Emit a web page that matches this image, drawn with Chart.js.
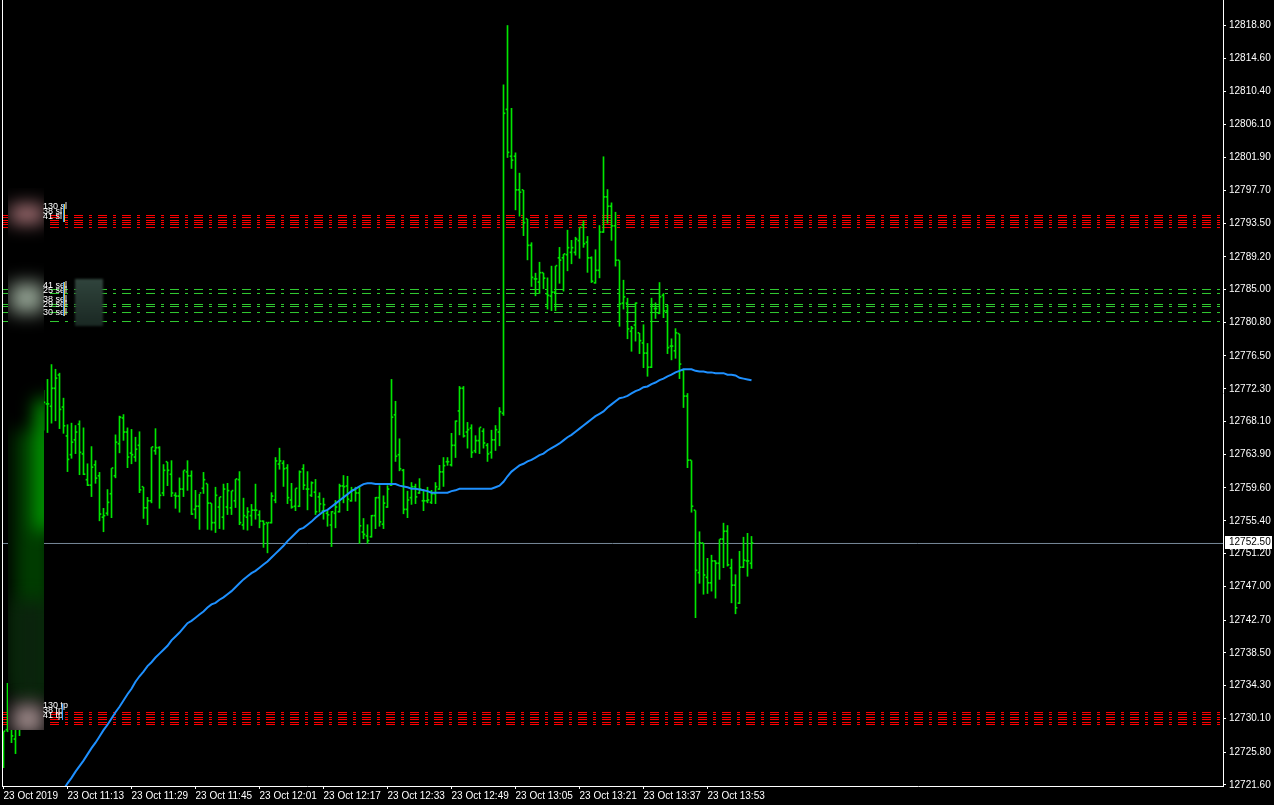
<!DOCTYPE html>
<html><head><meta charset="utf-8">
<script src="https://cdn.jsdelivr.net/npm/chart.js@4.4.1/dist/chart.umd.min.js"></script>
<style>html,body{margin:0;padding:0;background:#000;overflow:hidden}canvas{display:block}</style>
</head><body>
<canvas id="c" width="1274" height="805"></canvas>
<script>
// ---- data (M1 bars, 23 Oct 2019, from 10:57) ----
const opens=[12724.7,12728.6,12731.8,12727.4,12729.8,12731.8,12738.8,12749.0,12758.0,12765.7,
 12768.2,12770.3,12770.0,12772.3,12774.0,12769.9,12766.2,12763.8,12765.7,12767.7,
 12763.9,12760.6,12759.9,12762.5,12761.1,12755.8,12756.3,12758.8,12761.1,12765.2,
 12768.5,12766.7,12764.0,12763.5,12765.0,12759.7,12757.0,12757.9,12764.3,12764.7,
 12758.9,12762.9,12761.3,12758.6,12758.5,12759.4,12761.6,12761.1,12756.8,12757.2,
 12759.5,12760.1,12757.6,12755.1,12757.1,12755.8,12757.1,12757.0,12757.9,12760.6,
 12754.8,12755.8,12756.0,12756.7,12756.1,12755.3,12755.1,12755.1,12758.0,12762.6,
 12762.7,12762.1,12758.0,12757.2,12757.2,12762.0,12759.4,12758.6,12759.0,12758.4,
 12756.6,12756.3,12754.8,12756.3,12756.5,12759.8,12759.8,12757.9,12759.3,12758.9,
 12753.9,12753.4,12753.3,12756.0,12758.3,12754.9,12757.1,12759.9,12768.9,12763.8,
 12761.8,12756.8,12758.3,12759.7,12758.9,12757.9,12757.9,12757.7,12758.8,12759.4,
 12761.6,12762.9,12762.5,12765.0,12769.4,12772.3,12766.7,12767.2,12764.3,12765.6,
 12766.8,12765.0,12764.1,12765.7,12766.7,12769.1,12808.0,12802.0,12802.0,12797.7,
 12797.7,12794.0,12790.6,12786.3,12785.9,12787.1,12784.4,12784.1,12784.6,12789.0,
 12789.0,12789.4,12789.7,12789.7,12791.2,12793.2,12791.0,12789.0,12785.8,12787.4,
 12792.3,12796.8,12795.6,12793.1,12788.7,12783.2,12783.2,12779.6,12780.4,12779.4,
 12778.1,12776.8,12775.0,12782.5,12781.9,12784.2,12782.2,12777.7,12777.1,12779.3,
 12774.6,12771.3,12763.1,12756.7,12748.7,12752.5,12748.1,12747.4,12750.2,12749.9,
 12753.0,12754.0,12749.3,12747.1,12744.8,12749.4,12750.2,12749.9];
const highs=[12728.4,12734.6,12732.4,12730.5,12732.4,12740.1,12750.3,12760.6,12767.0,12770.8,
 12772.1,12773.5,12775.4,12774.8,12774.3,12771.1,12767.7,12767.9,12767.6,12768.2,
 12767.3,12762.7,12764.9,12763.1,12761.6,12757.0,12759.4,12762.1,12766.4,12768.8,
 12769.0,12767.3,12767.1,12766.1,12766.8,12759.7,12758.4,12764.8,12767.2,12764.9,
 12762.6,12762.9,12763.1,12759.0,12760.9,12761.8,12763.1,12761.8,12759.3,12758.8,
 12761.6,12760.1,12757.6,12759.7,12758.4,12760.1,12760.2,12759.2,12760.7,12761.7,
 12758.3,12757.1,12757.5,12760.1,12756.7,12755.4,12755.1,12759.0,12763.5,12764.7,
 12763.1,12762.6,12760.2,12759.5,12761.8,12762.6,12761.7,12760.4,12760.7,12759.0,
 12758.3,12756.7,12756.6,12758.0,12760.1,12761.2,12761.1,12759.7,12759.7,12759.7,
 12755.7,12754.9,12756.1,12758.4,12759.9,12758.6,12759.9,12773.5,12770.7,12765.9,
 12762.0,12759.2,12760.3,12760.1,12760.8,12759.4,12759.7,12759.3,12760.3,12762.5,
 12763.5,12763.5,12766.6,12768.2,12772.6,12772.6,12768.0,12767.7,12766.3,12767.3,
 12767.2,12765.3,12767.0,12767.6,12769.9,12811.2,12818.8,12808.2,12802.5,12799.9,
 12797.7,12794.0,12791.0,12787.1,12788.5,12787.1,12786.5,12788.0,12788.0,12790.4,
 12789.5,12792.6,12791.3,12791.7,12792.9,12793.8,12791.8,12789.2,12790.1,12793.2,
 12802.0,12797.8,12796.1,12794.9,12788.7,12786.2,12783.9,12780.3,12783.3,12779.4,
 12780.5,12778.1,12783.9,12783.3,12785.9,12784.5,12783.0,12778.7,12780.0,12779.3,
 12774.8,12771.7,12763.1,12756.7,12754.0,12752.5,12750.6,12751.0,12750.3,12753.0,
 12755.1,12754.8,12750.5,12748.5,12751.5,12753.3,12753.8,12753.4];
const lows=[12723.8,12728.4,12727.0,12725.6,12727.9,12731.1,12737.5,12747.8,12755.4,12763.1,
 12767.0,12766.7,12767.9,12768.2,12767.2,12766.6,12761.7,12763.4,12764.0,12761.3,
 12761.3,12759.9,12758.5,12760.2,12755.4,12754.0,12756.1,12755.8,12760.9,12764.1,
 12765.7,12762.2,12762.7,12763.0,12759.0,12755.7,12754.9,12757.7,12763.9,12757.0,
 12758.6,12759.9,12758.5,12757.0,12756.5,12758.5,12759.3,12756.2,12755.7,12754.3,
 12758.9,12754.3,12754.2,12753.9,12754.4,12754.3,12756.2,12756.2,12757.1,12754.9,
 12754.3,12754.2,12754.8,12755.6,12754.5,12752.0,12751.3,12755.1,12757.7,12762.0,
 12759.8,12757.6,12757.0,12756.7,12757.2,12759.4,12756.8,12758.5,12756.2,12756.5,
 12755.6,12754.7,12752.1,12754.5,12756.5,12757.7,12756.7,12757.9,12757.9,12752.5,
 12753.1,12752.5,12753.3,12754.4,12754.7,12754.4,12757.1,12759.9,12763.0,12761.8,
 12756.3,12755.8,12757.5,12757.6,12758.9,12756.7,12757.7,12757.6,12757.6,12759.4,
 12759.8,12762.5,12762.4,12763.5,12766.4,12766.1,12764.7,12763.5,12764.1,12764.0,
 12764.7,12763.0,12763.4,12764.4,12765.0,12768.9,12801.9,12800.5,12795.2,12794.4,
 12791.9,12788.8,12785.4,12784.2,12784.5,12785.1,12782.5,12782.3,12782.3,12785.8,
 12784.8,12787.4,12788.3,12789.4,12789.0,12790.4,12787.2,12785.9,12785.8,12786.5,
 12792.3,12793.5,12791.3,12788.0,12780.3,12782.5,12778.7,12777.1,12778.4,12776.8,
 12775.0,12773.9,12775.0,12781.3,12781.9,12781.4,12776.8,12776.0,12776.2,12773.6,
 12769.9,12762.2,12756.5,12743.0,12747.4,12746.0,12746.1,12746.4,12745.5,12747.9,
 12749.4,12749.6,12744.9,12743.5,12744.8,12749.4,12748.3,12749.3];
const closes=[12728.4,12732.4,12727.8,12729.8,12731.8,12738.8,12749.0,12758.0,12765.7,12768.2,
 12770.5,12770.3,12772.3,12773.6,12769.6,12767.5,12763.2,12765.4,12766.7,12764.1,
 12761.3,12759.9,12762.2,12760.8,12756.2,12756.0,12757.7,12762.1,12765.4,12768.6,
 12766.7,12763.5,12763.8,12764.5,12759.3,12757.0,12757.9,12764.8,12764.7,12758.6,
 12761.8,12761.8,12758.9,12758.5,12759.4,12761.8,12761.1,12756.2,12757.2,12758.9,
 12760.6,12757.6,12755.1,12758.6,12758.4,12759.4,12759.2,12759.2,12760.7,12755.1,
 12756.0,12756.5,12756.7,12756.7,12755.3,12754.9,12755.1,12758.5,12763.0,12763.0,
 12762.0,12758.3,12757.1,12759.5,12761.6,12759.9,12759.4,12760.2,12756.5,12757.5,
 12757.4,12756.1,12756.5,12757.1,12759.8,12759.7,12758.1,12759.3,12758.9,12754.7,
 12753.6,12752.8,12756.0,12758.3,12755.2,12757.6,12759.4,12768.6,12763.6,12762.0,
 12756.8,12758.0,12759.7,12758.4,12759.4,12757.9,12758.0,12758.8,12759.7,12761.6,
 12762.4,12762.9,12765.0,12768.1,12772.3,12766.2,12767.0,12764.1,12765.6,12767.3,
 12765.3,12763.9,12765.7,12767.0,12769.3,12807.5,12802.5,12801.5,12797.7,12797.4,
 12793.5,12790.6,12786.5,12786.3,12787.1,12786.4,12784.2,12784.6,12788.0,12788.7,
 12789.5,12790.3,12790.3,12791.4,12792.9,12790.8,12789.0,12786.0,12787.4,12792.3,
 12796.8,12795.6,12793.1,12788.7,12783.1,12784.0,12779.9,12780.0,12783.2,12778.4,
 12776.8,12775.0,12783.0,12782.5,12784.0,12782.2,12777.5,12777.7,12779.4,12775.4,
 12771.3,12763.1,12757.2,12749.0,12752.5,12748.4,12747.4,12750.2,12749.9,12753.0,
 12754.0,12749.7,12747.1,12744.2,12749.4,12750.3,12750.2,12752.5];
const movingAverage=[null,null,null,null,null,null,null,null,null,null,
 null,null,null,null,12720.2,12721.0,12721.8,12722.5,12723.3,12724.0,
 12724.7,12725.5,12726.3,12727.0,12727.8,12728.6,12729.3,12730.1,12730.9,12731.6,
 12732.4,12733.2,12733.9,12734.8,12735.5,12736.1,12736.8,12737.3,12737.9,12738.4,
 12738.9,12739.4,12740.1,12740.6,12741.1,12741.7,12742.3,12742.6,12743.0,12743.4,
 12743.8,12744.3,12744.7,12744.9,12745.3,12745.6,12746.0,12746.4,12746.9,12747.4,
 12747.9,12748.3,12748.7,12749.0,12749.4,12749.8,12750.2,12750.7,12751.2,12751.7,
 12752.2,12752.8,12753.3,12753.8,12754.3,12754.5,12754.9,12755.3,12755.8,12756.2,
 12756.6,12756.8,12757.2,12757.6,12758.0,12758.4,12758.8,12759.2,12759.5,12759.8,
 12760.1,12760.2,12760.2,12760.1,12760.1,12760.1,12760.1,12760.1,12760.1,12759.9,
 12759.8,12759.7,12759.5,12759.5,12759.4,12759.3,12759.2,12759.0,12759.0,12759.0,
 12759.0,12759.0,12759.2,12759.3,12759.5,12759.5,12759.5,12759.5,12759.5,12759.5,
 12759.5,12759.5,12759.5,12759.7,12759.9,12760.4,12761.1,12761.7,12762.1,12762.5,
 12762.7,12763.0,12763.2,12763.5,12763.8,12764.0,12764.4,12764.7,12765.0,12765.3,
 12765.7,12766.1,12766.4,12766.8,12767.2,12767.6,12768.0,12768.4,12768.8,12769.1,
 12769.4,12769.9,12770.3,12770.7,12771.1,12771.2,12771.4,12771.7,12772.0,12772.2,
 12772.5,12772.6,12772.9,12773.1,12773.4,12773.6,12773.9,12774.1,12774.4,12774.6,
 12774.8,12774.8,12774.8,12774.6,12774.5,12774.5,12774.4,12774.4,12774.3,12774.3,
 12774.3,12774.1,12774.1,12774.0,12773.7,12773.6,12773.5,12773.4];
const redLevelsTop=[12794.48,12794.22,12793.84,12793.58,12793.33,12792.94];
const greenLevels=[12785.01,12784.50,12783.09,12782.83,12782.06,12780.91];
const redLevelsBottom=[12730.86,12730.61,12730.22,12729.97,12729.58,12729.33];
const currentPrice=12752.5;
const yTickValues=[12818.80,12814.60,12810.40,12806.10,12801.90,12797.70,12793.50,12789.20,12785.00,12780.80,12776.50,12772.30,12768.10,12763.90,12759.60,12755.40,12751.20,12747.00,12742.70,12738.50,12734.30,12730.10,12725.80,12721.60];
const xTickIndex=[0,16,32,48,64,80,96,112,128,144,160,176];
const xTickLabels=['23 Oct 2019','23 Oct 11:13','23 Oct 11:29','23 Oct 11:45','23 Oct 12:01','23 Oct 12:17','23 Oct 12:33','23 Oct 12:49','23 Oct 13:05','23 Oct 13:21','23 Oct 13:37','23 Oct 13:53'];

const X_MIN=-0.375, X_MAX=304.875, Y_MIN=12721.456, Y_MAX=12822.064;
const FONT="'Liberation Sans',Arial,sans-serif";
const FS=10;
const GREEN='#00e600';

function levelDataset(p,color,dash){
  return {type:'line',data:[{x:X_MIN,y:p},{x:X_MAX,y:p}],borderColor:color,borderWidth:1,borderDash:dash,
    pointRadius:0,order:20,fill:false};
}
const datasets=[];
redLevelsTop.forEach(p=>datasets.push(levelDataset(p,'#ff0000',[9,6,3,6])));
greenLevels.forEach(p=>datasets.push(levelDataset(p,'#32cd32',[9,6,3,6])));
redLevelsBottom.forEach(p=>datasets.push(levelDataset(p,'#ff0000',[9,6,3,6])));
datasets.push({type:'line',data:[{x:X_MIN,y:currentPrice},{x:X_MAX,y:currentPrice}],borderColor:'#778899',borderWidth:1,pointRadius:0,order:19});
datasets.push({type:'bar',data:highs.map((h,i)=>({x:i,y:[lows[i],h]})),backgroundColor:GREEN,barThickness:1,grouped:false,borderWidth:0,order:10});
datasets.push({type:'bar',data:opens.map((o,i)=>({x:i-0.25,y:[o,o]})),backgroundColor:GREEN,barThickness:1,minBarLength:1,grouped:false,borderWidth:0,order:10});
datasets.push({type:'bar',data:closes.map((c,i)=>({x:i+0.25,y:[c,c]})),backgroundColor:GREEN,barThickness:1,minBarLength:1,grouped:false,borderWidth:0,order:10});
datasets.push({type:'line',data:movingAverage.map((v,i)=>({x:i,y:v})).filter(d=>d.y!==null),borderColor:'#1e90ff',borderWidth:2,pointRadius:0,tension:0,order:1});

const bgPlugin={id:'bg',beforeDraw(c){const ctx=c.ctx;ctx.save();ctx.fillStyle='#000';ctx.fillRect(0,0,c.width,c.height);ctx.restore();}};
const overlayPlugin={id:'overlay',afterDatasetsDraw(c){
  const ctx=c.ctx;ctx.save();
  // blurred order-label boxes on the left
  ctx.save();ctx.beginPath();ctx.rect(8,188,36,542);ctx.clip();
  ctx.fillStyle='#000';ctx.fillRect(8,188,36,57);ctx.fillRect(8,262,36,75);ctx.fillRect(8,385,36,345);
  ctx.filter='blur(9px)';
  ctx.fillStyle='rgb(175,120,125)';ctx.fillRect(10,205,34,18);
  ctx.fillStyle='rgb(145,160,145)';ctx.fillRect(10,283,34,30);
  ctx.fillStyle='rgb(0,60,0)';ctx.fillRect(14,430,40,260);
  ctx.fillStyle='rgb(0,175,0)';ctx.fillRect(36,400,16,130);
  ctx.fillStyle='rgb(10,35,12)';ctx.fillRect(10,600,40,100);
  ctx.fillStyle='rgb(155,135,135)';ctx.fillRect(12,704,32,30);
  ctx.restore();
  // dark box
  ctx.save();ctx.filter='blur(1px)';
  const g=ctx.createLinearGradient(0,279,0,326);g.addColorStop(0,'rgb(48,68,60)');g.addColorStop(1,'rgb(26,40,35)');
  ctx.fillStyle=g;ctx.fillRect(75,279,28,47);ctx.restore();
  // partly hidden order labels
  ctx.fillStyle='#fff';ctx.font="9px "+FONT;ctx.textBaseline='middle';
  [['130 sl',207],['38 sl',212],['41 sl',217]].forEach(t=>ctx.fillText(t[0],43,t[1]));
  [['41 sel',286],['25 sel',291],['38 sel',300],['29 sel',305],['30 sel',313]].forEach(t=>ctx.fillText(t[0],43,t[1]));
  [['130 tp',706],['38 tp',711],['41 tp',716]].forEach(t=>ctx.fillText(t[0],43,t[1]));
  ctx.fillStyle='#3aa0ff';ctx.fillRect(63,204,1,18);ctx.fillRect(63,282,1,34);ctx.fillRect(62,704,1,16);
  ctx.fillStyle='#e8c040';ctx.fillRect(64,204,1,18);ctx.fillRect(64,282,1,34);
  ctx.restore();
},
afterDraw(c){
  const ctx=c.ctx;ctx.save();
  ctx.fillStyle='#fff';ctx.fillRect(2,0,1,c.chartArea.bottom+1);
  const y=Math.round(c.scales.y.getPixelForValue(currentPrice))-1;
  ctx.fillStyle='#fff';ctx.fillRect(1225,y-6,47,13);
  ctx.fillStyle='#000';ctx.font=FS+"px "+FONT;ctx.textBaseline='middle';ctx.textAlign='left';
  ctx.fillText(currentPrice.toFixed(2),1229,y+0.5);
  ctx.restore();
}};

new Chart(document.getElementById('c'),{
  type:'bar',
  data:{datasets},
  options:{
    responsive:false,animation:false,devicePixelRatio:1,
    layout:{padding:{left:2,right:0,top:0,bottom:0}},
    plugins:{legend:{display:false},tooltip:{enabled:false}},
    events:[],
    scales:{
      x:{type:'linear',min:X_MIN,max:X_MAX,offset:false,
        grid:{display:true,drawOnChartArea:false,drawTicks:true,tickLength:3,tickColor:'#fff',offset:false},
        border:{display:true,color:'#fff',width:1},
        ticks:{autoSkip:false,maxRotation:0,minRotation:0,align:'start',padding:1,color:'#fff',font:{family:FONT,size:FS},
          callback:(v)=>{const i=xTickIndex.indexOf(v);return i>=0?xTickLabels[i]:'';}},
        afterBuildTicks:s=>{s.ticks=xTickIndex.map(v=>({value:v}));},
        afterFit:s=>{s.height=19;s.paddingLeft=0;s.paddingRight=0;}},
      y:{type:'linear',position:'right',min:Y_MIN,max:Y_MAX,beginAtZero:false,
        grid:{display:true,drawOnChartArea:false,drawTicks:true,tickLength:3,tickColor:'#fff'},
        border:{display:true,color:'#fff',width:1},
        ticks:{autoSkip:false,padding:3,color:'#fff',font:{family:FONT,size:FS},callback:v=>Number(v).toFixed(2)},
        afterBuildTicks:s=>{s.ticks=yTickValues.map(v=>({value:v}));},
        afterFit:s=>{s.width=51;s.paddingTop=0;s.paddingBottom=0;}}
    }
  },
  plugins:[bgPlugin,overlayPlugin]
});
</script>
</body></html>
